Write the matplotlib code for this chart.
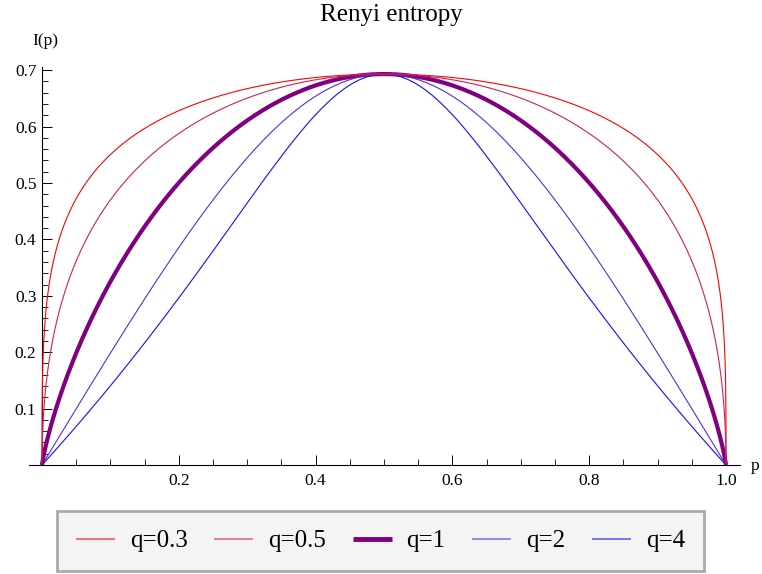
import numpy as np
import matplotlib

matplotlib.use("Agg")
import matplotlib.pyplot as plt


# Renyi orders shown in the legend, with their styling
q_values = [0.3, 0.5, 1, 2, 4]
labels = ["q=0.3", "q=0.5", "q=1", "q=2", "q=4"]
colors = ["#ff0000", "#d0205a", "#800080", "#5030e0", "#1010ff"]
widths = [0.8, 0.8, 3.0, 0.8, 0.8]

x_ticks = [0.2, 0.4, 0.6, 0.8, 1.0]
y_ticks = [0.1, 0.2, 0.3, 0.4, 0.5, 0.6, 0.7]


def renyi(p, q):
    if q == 1:
        return -(p * np.log(p) + (1 - p) * np.log(1 - p))
    return np.log(p ** q + (1 - p) ** q) / (1 - q)


def main() -> None:
    plt.rcParams["font.family"] = ["Liberation Serif", "DejaVu Serif"]

    fig = plt.figure(figsize=(7.62, 5.74), dpi=100)
    W, H = 762, 574
    left, right, top, bottom = 29, 740, 67, 465
    ax = fig.add_axes([left / W, 1 - bottom / H, (right - left) / W, (bottom - top) / H])

    x0 = -(42 - 29) / 684
    x1 = (740 - 42) / 684
    ax.set_xlim(x0, x1)
    ax.set_ylim(0, (465 - 67) / 564)

    p = np.concatenate([np.linspace(1e-9, 0.01, 400), np.linspace(0.01, 0.99, 2000), np.linspace(0.99, 1 - 1e-9, 400)])
    lines = []
    for q, label, color, lw in zip(q_values, labels, colors, widths):
        (line,) = ax.plot(p, renyi(p, q), color=color, lw=lw, label=label, solid_capstyle="butt")
        lines.append(line)
    for line in lines[:2]:
        line.set_zorder(3)

    for side in ("top", "right"):
        ax.spines[side].set_visible(False)
    ax.spines["left"].set_position(("data", 0))
    ax.spines["left"].set_linewidth(0.8)
    ax.spines["bottom"].set_linewidth(0.8)

    ax.set_xticks(x_ticks)
    ax.set_xticklabels(["0.2", "0.4", "0.6", "0.8", "1.0"])
    ax.set_xticks(np.arange(0.05, 1.0, 0.05), minor=True)
    ax.set_yticks(y_ticks)
    ax.set_yticklabels([f"{v:.1f}" for v in y_ticks])
    ax.set_yticks(np.arange(0.02, 0.705, 0.02), minor=True)
    ax.tick_params(axis="both", which="major", direction="in", length=7, width=0.7, labelsize=12.5, pad=6)
    ax.tick_params(axis="both", which="minor", direction="in", length=4, width=0.6)
    ax.tick_params(axis="y", which="major", pad=4)

    fig.text(391 / W, 1 - 15 / H, "Renyi entropy", ha="center", va="center", fontsize=18)
    fig.text(45 / W, 1 - 41 / H, "I(p)", ha="center", va="center", fontsize=12.5)
    fig.text(751 / W, 1 - 466 / H, "p", ha="left", va="center", fontsize=12.5)

    leg = fig.legend(
        handles=lines,
        loc="center",
        bbox_to_anchor=(380.5 / W, 1 - 541 / H),
        ncol=5,
        fontsize=18,
        frameon=True,
        fancybox=False,
        handlelength=1.55,
        handletextpad=0.6,
        columnspacing=1.07,
        borderpad=0.75,
        borderaxespad=0,
    )
    frame = leg.get_frame()
    frame.set_facecolor("#f4f4f4")
    frame.set_edgecolor("#aaaaaa")
    frame.set_linewidth(2.0)
    frame.set_alpha(1.0)
    for handle, lw in zip(leg.legend_handles, widths):
        handle.set_alpha(0.65 if lw < 1 else 1.0)
        handle.set_linewidth(1.2 if lw < 1 else 3.5)

    fig.savefig("out.png", dpi=100)
    plt.close(fig)


if __name__ == "__main__":
    main()
